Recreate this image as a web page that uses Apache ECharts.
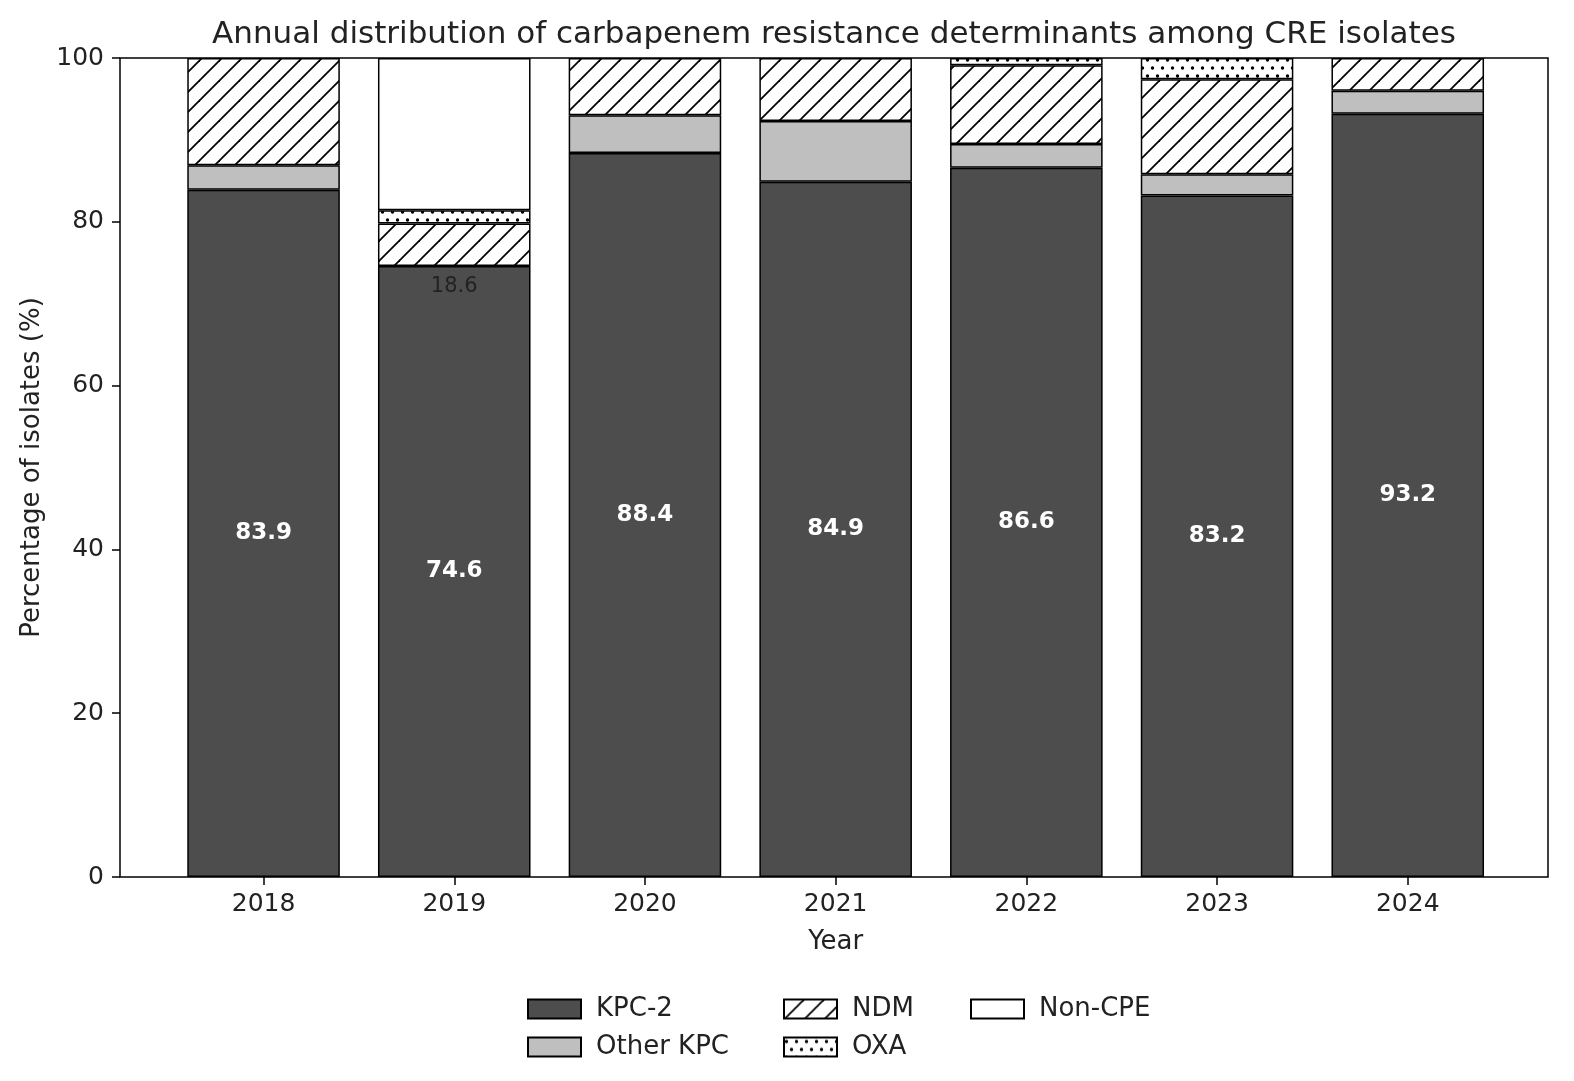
<!DOCTYPE html>
<html><head><meta charset="utf-8">
<script src="https://cdn.jsdelivr.net/npm/echarts@6/dist/echarts.min.js"></script>
<style>html,body{margin:0;padding:0;background:#fff;overflow:hidden;width:1574px;height:1081px}#c{width:1574px;height:1081px;display:block}</style>
</head><body><div id="c"></div>
<script>
const years = ['2018','2019','2020','2021','2022','2023','2024'];
const kpc2 = [83.9, 74.6, 88.4, 84.9, 86.6, 83.2, 93.2];
const otherKpc = [3.0, 0, 4.6, 7.4, 2.9, 2.6, 2.8];
const ndm = [13.1, 5.2, 7.0, 7.7, 9.6, 11.6, 4.0];
const oxa = [0, 1.6, 0, 0, 0.9, 2.6, 0];
const nonCpe = [0, 18.6, 0, 0, 0, 0, 0];
const yTicks = [0, 20, 40, 60, 80, 100];

const FONT = 'DejaVu Sans';

function hatchCanvas() {
  const c = document.createElement('canvas');
  c.width = 20; c.height = 20;
  const g = c.getContext('2d');
  g.fillStyle = '#fff'; g.fillRect(0, 0, 20, 20);
  g.strokeStyle = '#000'; g.lineWidth = 1.8;
  for (const k of [0, 20, 40]) {
    g.beginPath(); g.moveTo(k + 2, -2); g.lineTo(k - 22, 22); g.stroke();
  }
  return c;
}
function dotCanvas() {
  const c = document.createElement('canvas');
  c.width = 10; c.height = 16;
  const g = c.getContext('2d');
  g.fillStyle = '#fff'; g.fillRect(0, 0, 10, 16);
  g.fillStyle = '#000';
  g.beginPath(); g.arc(2.5, 4, 1.7, 0, Math.PI * 2); g.fill();
  g.beginPath(); g.arc(7.5, 12, 1.7, 0, Math.PI * 2); g.fill();
  return c;
}
const hatch = { image: hatchCanvas(), repeat: 'repeat' };
const dots = { image: dotCanvas(), repeat: 'repeat' };

const toData = arr => arr.map(v => (v > 0 ? v : '-'));
const border = { borderColor: '#000', borderWidth: 1.5 };

function barSeries(name, arr, color, label) {
  return {
    name, type: 'bar', stack: 'all', xAxisIndex: 1, yAxisIndex: 1,
    data: toData(arr), barWidth: '80%',
    itemStyle: Object.assign({ color }, border),
    label: label || { show: false },
    emphasis: { disabled: true },
    animation: false
  };
}

const chart = echarts.init(document.getElementById('c'), null, { renderer: 'canvas', width: 1574, height: 1081 });
const legendCommon = {
  orient: 'vertical', itemWidth: 53, itemHeight: 19, itemGap: 12, icon: 'rect',
  textStyle: { fontFamily: FONT, fontSize: 26, color: '#222', padding: [0, 0, 0, 10] },
  selectedMode: false, top: 991
};
chart.setOption({
  animation: false,
  textStyle: { fontFamily: FONT },
  title: {
    text: 'Annual distribution of carbapenem resistance determinants among CRE isolates',
    left: 834, textAlign: 'center', top: 19, padding: 0,
    textStyle: { fontFamily: FONT, fontSize: 31, fontWeight: 'normal', color: '#222' }
  },
  legend: [
    Object.assign({}, legendCommon, { left: 522, data: ['KPC-2', 'Other KPC'] }),
    Object.assign({}, legendCommon, { left: 778, data: ['NDM', 'OXA'] }),
    Object.assign({}, legendCommon, { left: 965, data: ['Non-CPE'] })
  ],
  grid: [
    { left: 120, top: 58, width: 1428, height: 819, show: true, borderColor: '#000', borderWidth: 1.5, backgroundColor: 'transparent' },
    { left: 168.2, top: 58, width: 1334.9, height: 819 }
  ],
  xAxis: [
    { gridIndex: 0, type: 'value', show: false, min: 0, max: 1 },
    {
      gridIndex: 1, type: 'category', data: years,
      name: 'Year', nameLocation: 'middle', nameGap: 52,
      nameTextStyle: { fontFamily: FONT, fontSize: 26, color: '#222' },
      axisLine: { show: false },
      axisTick: { show: true, alignWithLabel: true, length: 8, lineStyle: { color: '#000', width: 1.5 } },
      axisLabel: { fontFamily: FONT, fontSize: 25, color: '#222', margin: 15 }
    }
  ],
  yAxis: [
    {
      gridIndex: 0, type: 'value', min: 0, max: 100, interval: 20,
      name: 'Percentage of isolates (%)', nameLocation: 'middle', nameGap: 75,
      nameTextStyle: { fontFamily: FONT, fontSize: 26, color: '#222' },
      axisLine: { show: false },
      axisTick: { show: true, length: 8, lineStyle: { color: '#000', width: 1.5 } },
      axisLabel: { fontFamily: FONT, fontSize: 25, color: '#222', margin: 16, formatter: v => (yTicks.includes(v) ? String(v) : '') },
      splitLine: { show: false }
    },
    { gridIndex: 1, type: 'value', min: 0, max: 100, show: false, splitLine: { show: false } }
  ],
  series: [
    barSeries('KPC-2', kpc2, '#4d4d4d', {
      show: true, position: 'inside', color: '#fff', fontFamily: FONT, fontSize: 23, fontWeight: 'bold',
      formatter: p => p.value.toFixed(1)
    }),
    barSeries('Other KPC', otherKpc, '#bfbfbf'),
    barSeries('NDM', ndm, hatch),
    barSeries('OXA', oxa, dots),
    barSeries('Non-CPE', nonCpe, '#ffffff', {
      show: true, position: ['50%', '150%'], align: 'center', verticalAlign: 'middle',
      color: '#222', fontFamily: FONT, fontSize: 21,
      formatter: p => (p.value > 0 ? p.value.toFixed(1) : '')
    })
  ]
});
</script></body></html>
